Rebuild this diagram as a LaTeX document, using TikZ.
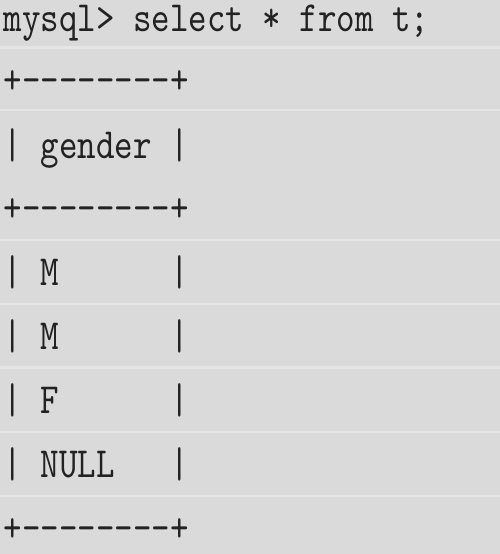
\documentclass[tikz,border=0pt]{standalone}
\usepackage{fontspec}
\setmonofont{lmmono10-regular.otf}[FakeStretch=0.82]
\definecolor{bg}{HTML}{DADADA}
\definecolor{sepc}{HTML}{E5E5E5}
\definecolor{ink}{HTML}{222222}
\begin{document}
\begin{tikzpicture}[x=1pt,y=-1pt,
  txt/.style={anchor=base west, inner sep=0pt, font=\ttfamily\fontsize{43}{50}\selectfont, text=ink},
  sepline/.style={draw=sepc, line width=2.5pt}]
\fill[bg] (0,0) rectangle (500,554);
\useasboundingbox (0,0) rectangle (500,554);
\foreach \yy in {47.5,110,240,304,367.5,432,496}
  \draw[sepline] (0,\yy) -- (500,\yy);
\node[txt] (cmd) at (3.5,31) {mysql> select * from t;};
\node[txt] (top) at (3.5,93.5) {+--------+};
\node[txt] (head) at (3.5,158) {|\ gender\ |};
\node[txt] (mid) at (3.5,221.5) {+--------+};
\node[txt] (r1) at (3.5,285.5) {|\ M\ \ \ \ \ \ |};
\node[txt] (r2) at (3.5,349.5) {|\ M\ \ \ \ \ \ |};
\node[txt] (r3) at (3.5,413.5) {|\ F\ \ \ \ \ \ |};
\node[txt] (r4) at (3.5,477.5) {|\ NULL\ \ \ |};
\node[txt] (bot) at (3.5,541.5) {+--------+};
\end{tikzpicture}
\end{document}
